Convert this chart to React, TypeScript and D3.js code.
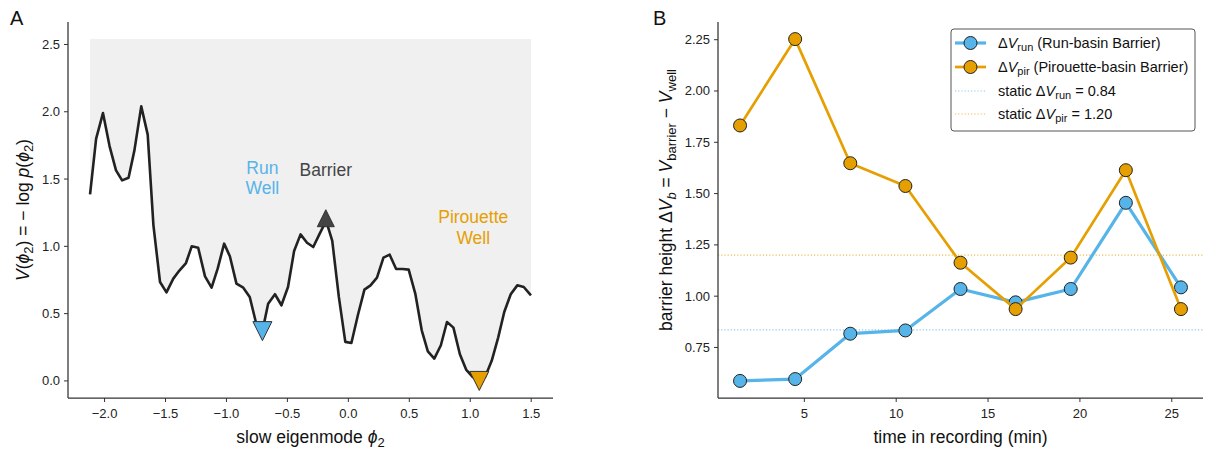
import React from 'react';
import * as d3 from 'd3';

// ---- Panel A data ----
const phiVals = [-2.119,-2.069,-2.013,-1.959,-1.906,-1.856,-1.803,-1.755,-1.699,-1.646,
  -1.599,-1.545,-1.492,-1.436,-1.386,-1.332,-1.285,-1.232,-1.176,-1.122,
  -1.072,-1.019,-0.972,-0.918,-0.862,-0.809,-0.759,-0.705,-0.658,-0.602,
  -0.549,-0.495,-0.445,-0.392,-0.339,-0.288,-0.235,-0.182,-0.132,-0.078,
  -0.025,0.025,0.078,0.132,0.182,0.235,0.288,0.339,0.392,0.445,
  0.495,0.549,0.602,0.652,0.705,0.759,0.809,0.862,0.915,0.966,
  1.019,1.072,1.122,1.176,1.229,1.279,1.332,1.386,1.439,1.498];
const potentialVals = [1.386,1.80,1.99,1.745,1.564,1.49,1.51,1.713,2.04,1.83,
  1.156,0.735,0.658,0.76,0.82,0.876,1.0,0.99,0.777,0.693,
  0.834,1.02,0.926,0.723,0.693,0.624,0.438,0.37,0.574,0.644,
  0.562,0.698,0.965,1.089,1.027,0.995,1.094,1.19,1.04,0.624,
  0.29,0.282,0.488,0.678,0.71,0.767,0.916,0.938,0.832,0.832,
  0.827,0.649,0.376,0.22,0.166,0.265,0.438,0.396,0.198,0.084,
  0.03,0.0,0.03,0.149,0.322,0.512,0.644,0.71,0.698,0.636];
const shadeTop = 2.54;
const runWell = { phi: -0.705, v: 0.37 };
const barrierPt = { phi: -0.185, v: 1.209 };
const pirWell = { phi: 1.074, v: 0.0 };
const xTicksA = [-2.0, -1.5, -1.0, -0.5, 0.0, 0.5, 1.0, 1.5];
const yTicksA = [0.0, 0.5, 1.0, 1.5, 2.0, 2.5];

// ---- Panel B data ----
const timeVals = [1.5, 4.5, 7.5, 10.5, 13.5, 16.5, 19.5, 22.5, 25.5];
const dvRun = [0.587, 0.596, 0.817, 0.833, 1.035, 0.970, 1.035, 1.455, 1.043];
const dvPir = [1.832, 2.253, 1.648, 1.537, 1.163, 0.937, 1.188, 1.614, 0.937];
const staticRun = 0.836;
const staticPir = 1.20;
const xTicksB = [5, 10, 15, 20, 25];
const yTicksB = [0.75, 1.0, 1.25, 1.5, 1.75, 2.0, 2.25];

const BLUE = '#56B4E9';
const ORANGE = '#E69F00';
const FONT = '"Liberation Sans", Arial, Helvetica, sans-serif';
const INK = '#222';
const TICK_FS = 13;
const LABEL_FS = 17.5;

function pad(ext: [number, number]): [number, number] {
  const r = ext[1] - ext[0];
  return [ext[0] - 0.05 * r, ext[1] + 0.05 * r];
}
const minus = (s: string) => s.replace('-', '\u2212');

export default function App() {
  // Panel A scales
  const ax = { l: 68, r: 553, t: 22, b: 398 };
  const xA = d3.scaleLinear().domain(pad(d3.extent(phiVals) as [number, number])).range([ax.l, ax.r]);
  const yA = d3.scaleLinear().domain(pad([0, shadeTop])).range([ax.b, ax.t]);
  const pts = phiVals.map((p, i) => [p, potentialVals[i]] as [number, number]);
  const lineA = d3.line<[number, number]>().x(d => xA(d[0])).y(d => yA(d[1]));
  const areaA = d3.area<[number, number]>().x(d => xA(d[0])).y0(() => yA(shadeTop)).y1(d => yA(d[1]));

  // Panel B scales
  const bx = { l: 718, r: 1203, t: 22, b: 398 };
  const xB = d3.scaleLinear().domain(pad(d3.extent(timeVals) as [number, number])).range([bx.l, bx.r]);
  const allB = dvRun.concat(dvPir);
  const yB = d3.scaleLinear().domain(pad(d3.extent(allB) as [number, number])).range([bx.b, bx.t]);
  const lineB = d3.line<number>().x((_, i) => xB(timeVals[i])).y(d => yB(d));

  const tri = (cx: number, cy: number, down: boolean, s = 9.5) =>
    down
      ? `M${cx - s},${cy - s}L${cx + s},${cy - s}L${cx},${cy + s}Z`
      : `M${cx - s},${cy + s}L${cx + s},${cy + s}L${cx},${cy - s}Z`;

  const spine = '#333';

  return (
    <svg width={1211} height={449} style={{ position: 'absolute', left: 0, top: 0, background: '#fff' }} fontFamily={FONT}>
      <rect x={0} y={0} width={1211} height={449} fill="#fff" />
      {/* ===== Panel A ===== */}
      <path d={areaA(pts) || ''} fill="#f0f0f0" />
      <path d={lineA(pts) || ''} fill="none" stroke="#222" strokeWidth={2.6} strokeLinejoin="round" />
      <path d={tri(xA(runWell.phi), yA(runWell.v), true)} fill={BLUE} stroke="#333" strokeWidth={1} />
      <path d={tri(xA(barrierPt.phi), yA(barrierPt.v), false, 8.5)} fill="#444" stroke="#333" strokeWidth={1} />
      <path d={tri(xA(pirWell.phi), yA(pirWell.v), true)} fill={ORANGE} stroke="#333" strokeWidth={1} />
      <text x={xA(runWell.phi)} y={174} fill={BLUE} fontSize={LABEL_FS} textAnchor="middle">Run</text>
      <text x={xA(runWell.phi)} y={194} fill={BLUE} fontSize={LABEL_FS} textAnchor="middle">Well</text>
      <text x={xA(barrierPt.phi)} y={176} fill="#444" fontSize={LABEL_FS} textAnchor="middle">Barrier</text>
      <text x={xA(pirWell.phi) - 6} y={223} fill={ORANGE} fontSize={LABEL_FS} textAnchor="middle">Pirouette</text>
      <text x={xA(pirWell.phi) - 6} y={244} fill={ORANGE} fontSize={LABEL_FS} textAnchor="middle">Well</text>
      {/* axes A */}
      <line x1={ax.l} x2={ax.l} y1={ax.t} y2={ax.b} stroke={spine} strokeWidth={1.25} />
      <line x1={ax.l} x2={ax.r} y1={ax.b} y2={ax.b} stroke={spine} strokeWidth={1.25} />
      {xTicksA.map(t => (
        <g key={'xa' + t}>
          <line x1={xA(t)} x2={xA(t)} y1={ax.b} y2={ax.b + 4} stroke={spine} strokeWidth={1} />
          <text x={xA(t)} y={ax.b + 20} fontSize={TICK_FS} fill={INK} textAnchor="middle">{minus(t.toFixed(1))}</text>
        </g>
      ))}
      {yTicksA.map(t => (
        <g key={'ya' + t}>
          <line x1={ax.l - 4} x2={ax.l} y1={yA(t)} y2={yA(t)} stroke={spine} strokeWidth={1} />
          <text x={ax.l - 8} y={yA(t) + 4.5} fontSize={TICK_FS} fill={INK} textAnchor="end">{t.toFixed(1)}</text>
        </g>
      ))}
      <text x={(ax.l + ax.r) / 2} y={443} fontSize={LABEL_FS} fill="#111" textAnchor="middle">
        slow eigenmode <tspan fontStyle="italic">ϕ</tspan><tspan dy={4} fontSize={13}>2</tspan>
      </text>
      <text transform={`translate(29,${(ax.t + ax.b) / 2}) rotate(-90)`} fontSize={LABEL_FS} fill="#111" textAnchor="middle">
        <tspan fontStyle="italic">V</tspan>(<tspan fontStyle="italic">ϕ</tspan><tspan dy={4} fontSize={13}>2</tspan><tspan dy={-4}>)  =  − log </tspan><tspan fontStyle="italic">p</tspan>(<tspan fontStyle="italic">ϕ</tspan><tspan dy={4} fontSize={13}>2</tspan><tspan dy={-4}>)</tspan>
      </text>
      <text x={10} y={25} fontSize={20} fill="#111">A</text>

      {/* ===== Panel B ===== */}
      <line x1={bx.l} x2={bx.r} y1={yB(staticRun)} y2={yB(staticRun)} stroke={BLUE} strokeOpacity={0.7} strokeWidth={1.2} strokeDasharray="1.2,2" />
      <line x1={bx.l} x2={bx.r} y1={yB(staticPir)} y2={yB(staticPir)} stroke={ORANGE} strokeOpacity={0.7} strokeWidth={1.2} strokeDasharray="1.2,2" />
      <path d={lineB(dvRun) || ''} fill="none" stroke={BLUE} strokeWidth={3.2} strokeLinejoin="round" />
      {dvRun.map((v, i) => (
        <circle key={'r' + i} cx={xB(timeVals[i])} cy={yB(v)} r={6.5} fill={BLUE} stroke="#222" strokeWidth={1} />
      ))}
      <path d={lineB(dvPir) || ''} fill="none" stroke={ORANGE} strokeWidth={2.7} strokeLinejoin="round" />
      {dvPir.map((v, i) => (
        <circle key={'p' + i} cx={xB(timeVals[i])} cy={yB(v)} r={6.5} fill={ORANGE} stroke="#222" strokeWidth={1} />
      ))}
      {/* axes B */}
      <line x1={bx.l} x2={bx.l} y1={bx.t} y2={bx.b} stroke={spine} strokeWidth={1.25} />
      <line x1={bx.l} x2={bx.r} y1={bx.b} y2={bx.b} stroke={spine} strokeWidth={1.25} />
      {xTicksB.map(t => (
        <g key={'xb' + t}>
          <line x1={xB(t)} x2={xB(t)} y1={bx.b} y2={bx.b + 4} stroke={spine} strokeWidth={1} />
          <text x={xB(t)} y={bx.b + 20} fontSize={TICK_FS} fill={INK} textAnchor="middle">{t}</text>
        </g>
      ))}
      {yTicksB.map(t => (
        <g key={'yb' + t}>
          <line x1={bx.l - 4} x2={bx.l} y1={yB(t)} y2={yB(t)} stroke={spine} strokeWidth={1} />
          <text x={bx.l - 8} y={yB(t) + 4.5} fontSize={TICK_FS} fill={INK} textAnchor="end">{t.toFixed(2)}</text>
        </g>
      ))}
      <text x={(bx.l + bx.r) / 2} y={443} fontSize={LABEL_FS} fill="#111" textAnchor="middle">time in recording (min)</text>
      <text transform={`translate(672,200) rotate(-90)`} fontSize={LABEL_FS} fill="#111" textAnchor="middle">
        barrier height Δ<tspan fontStyle="italic">V</tspan><tspan dy={4} fontSize={13} fontStyle="italic">b</tspan><tspan dy={-4}>  =  </tspan><tspan fontStyle="italic">V</tspan><tspan dy={4} fontSize={13}>barrier</tspan><tspan dy={-4}>  −  </tspan><tspan fontStyle="italic">V</tspan><tspan dy={4} fontSize={13}>well</tspan>
      </text>
      <text x={653} y={25} fontSize={20} fill="#111">B</text>

      {/* legend */}
      <rect x={951} y={29} width={244} height={102} rx={3} fill="#fff" fillOpacity={0.85} stroke="#555" strokeWidth={1} />
      <g fontSize={14.5} fill="#111">
        <line x1={955} x2={986} y1={43} y2={43} stroke={BLUE} strokeWidth={3.2} />
        <circle cx={970.5} cy={43} r={6.5} fill={BLUE} stroke="#222" strokeWidth={1} />
        <text x={998} y={48}>Δ<tspan fontStyle="italic">V</tspan><tspan dy={3} fontSize={11}>run</tspan><tspan dy={-3}> (Run-basin Barrier)</tspan></text>
        <line x1={955} x2={986} y1={67} y2={67} stroke={ORANGE} strokeWidth={2.7} />
        <circle cx={970.5} cy={67} r={6.5} fill={ORANGE} stroke="#222" strokeWidth={1} />
        <text x={998} y={72}>Δ<tspan fontStyle="italic">V</tspan><tspan dy={3} fontSize={11}>pir</tspan><tspan dy={-3}> (Pirouette-basin Barrier)</tspan></text>
        <line x1={955} x2={986} y1={91} y2={91} stroke={BLUE} strokeOpacity={0.7} strokeWidth={1.2} strokeDasharray="1.2,2" />
        <text x={998} y={96}>static Δ<tspan fontStyle="italic">V</tspan><tspan dy={3} fontSize={11}>run</tspan><tspan dy={-3}> = 0.84</tspan></text>
        <line x1={955} x2={986} y1={114} y2={114} stroke={ORANGE} strokeOpacity={0.7} strokeWidth={1.2} strokeDasharray="1.2,2" />
        <text x={998} y={119}>static Δ<tspan fontStyle="italic">V</tspan><tspan dy={3} fontSize={11}>pir</tspan><tspan dy={-3}> = 1.20</tspan></text>
      </g>
    </svg>
  );
}
